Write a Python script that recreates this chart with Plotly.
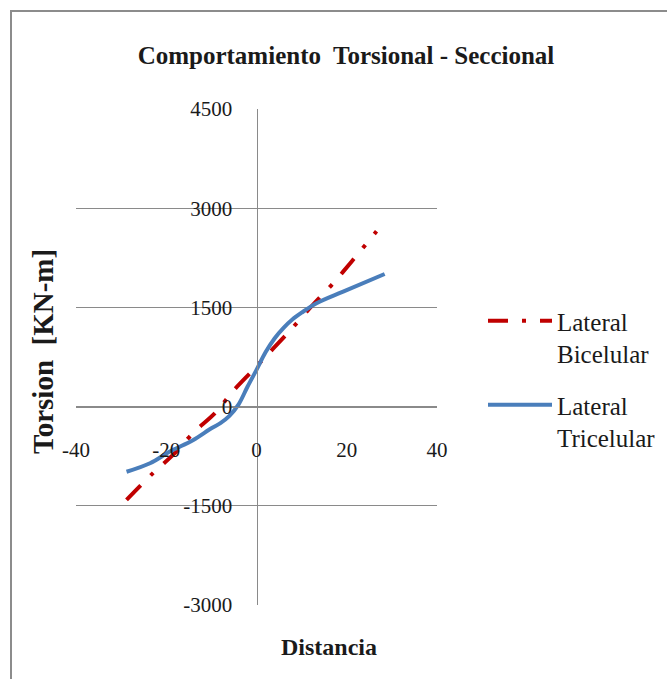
import plotly.graph_objects as go

# ---- data ----
bi_x = [-28.8, -23.0, -18.5, -14.0, -9.2, -5.2, -0.6, 7.9, 12.5, 17.0, 21.1, 26.6]
bi_y = [-1410, -1010, -730, -395, -100, 235, 565, 1185, 1540, 1866, 2195, 2650]

tri_x = [-28.8, -23.6, -19.2, -14.0, -10.0, -8.0, -6.0, -4.0, -2.0, 0.0, 2.0, 4.0, 6.0, 8.0, 10.0, 13.3, 19.2, 28.4]
tri_y = [-985, -856, -680, -504, -327, -250, -140, 30, 300, 555, 820, 1030, 1190, 1320, 1420, 1563, 1739, 2005]

x_ticks = [-40, -20, 0, 20, 40]
x_tick_text = ["-40", "-20", "0", "20", "40"]
y_ticks = [-3000, -1500, 0, 1500, 3000, 4500]
y_tick_text = ["-3000", "-1500", "0", "1500", "3000", "4500"]

title_text = "Comportamiento  Torsional - Seccional"
x_title = "Distancia"
y_title = "Torsion  [KN-m]"
names = ["Lateral<br>Bicelular", "Lateral<br>Tricelular"]

SERIF = "Liberation Serif"
GRID = "#8a8a8a"

fig = go.Figure()
fig.add_trace(go.Scatter(
    x=bi_x, y=bi_y, mode="lines", name=names[0], legendgroup="a",
    line=dict(color="#C00000", width=4, dash="20px,14px,4px,14px", shape="spline", smoothing=0.8),
))
fig.add_trace(go.Scatter(
    x=tri_x, y=tri_y, mode="lines", name=names[1], legendgroup="b",
    line=dict(color="#4A7EBB", width=4, shape="spline", smoothing=1.0),
))

L, R, T, B = 76, 437, 109, 605
W, H = 667, 679

def px_x(p):
    return (p - L) / (R - L)

def px_y(p):
    return (B - p) / (B - T)

fig.update_layout(
    width=W, height=H,
    margin=dict(l=L, r=W - R, t=T, b=H - B, pad=0, autoexpand=False),
    paper_bgcolor="white", plot_bgcolor="white",
    font=dict(family=SERIF, color="#1a1a1a"),
    title=dict(text=title_text, x=346 / W, xanchor="center", y=1 - 55 / H, yanchor="middle",
               font=dict(family=SERIF, size=25, color="#1a1a1a", weight="bold")),
    xaxis=dict(range=[-40, 40], tickvals=x_ticks, ticktext=x_tick_text,
               showgrid=False, zeroline=False, showline=True, linecolor=GRID, linewidth=1,
               anchor="free", position=3000 / 7500, ticks="", ticklabelstandoff=24,
               tickfont=dict(family=SERIF, size=21, color="#1a1a1a")),
    yaxis=dict(range=[-3000, 4500], tickvals=y_ticks, ticktext=y_tick_text,
               showgrid=True, gridcolor=GRID, gridwidth=1, zeroline=False,
               showline=True, linecolor=GRID, linewidth=1,
               anchor="free", position=0.5, ticks="", ticklabelstandoff=20,
               tickfont=dict(family=SERIF, size=21, color="#1a1a1a")),
    legend=dict(x=px_x(483), xanchor="left", y=px_y(298), yanchor="top",
                font=dict(family=SERIF, size=25, color="#1a1a1a"),
                valign="top", tracegroupgap=16, traceorder="grouped",
                bgcolor="rgba(0,0,0,0)", itemwidth=64),
    showlegend=True,
)

fig.add_annotation(text=x_title, xref="paper", yref="paper", x=px_x(329), y=px_y(647),
                   showarrow=False, xanchor="center", yanchor="middle",
                   font=dict(family=SERIF, size=24, color="#1a1a1a", weight="bold"))
fig.add_annotation(text=y_title, xref="paper", yref="paper", x=px_x(43), y=px_y(352),
                   showarrow=False, textangle=-90, xanchor="center", yanchor="middle",
                   font=dict(family=SERIF, size=29, color="#1a1a1a", weight="bold"))

# chart-area border (left/top visible in the crop)
fig.add_shape(type="rect", xref="paper", yref="paper",
              x0=px_x(11), x1=px_x(720), y0=px_y(730), y1=px_y(11),
              line=dict(color="#8c8c8c", width=2), fillcolor="rgba(0,0,0,0)", layer="below")

fig.write_html("out.html")
